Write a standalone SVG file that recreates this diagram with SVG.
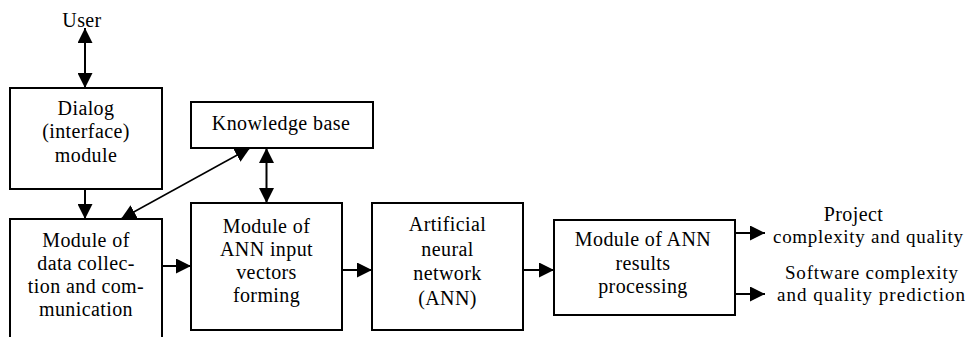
<svg xmlns="http://www.w3.org/2000/svg" width="967" height="337" viewBox="0 0 967 337">
  <style>
    .box { fill: #ffffff; stroke: #000000; stroke-width: 2; }
    .lbl { font-family: 'Liberation Serif', 'DejaVu Serif', serif; font-size: 20px; letter-spacing: 0.4px; fill: #000000; text-anchor: middle; }
    .lbs { font-family: 'Liberation Serif', 'DejaVu Serif', serif; font-size: 19px; fill: #000000; }
    .conn { stroke: #000000; stroke-width: 2; fill: none; }
    .thin { stroke: #000000; stroke-width: 1.5; fill: none; }
  </style>
  <defs>
    <marker id="ah" markerUnits="userSpaceOnUse" markerWidth="15" markerHeight="15" viewBox="0 0 15 15" refX="15" refY="7.5" orient="auto-start-reverse">
      <path d="M0,0 L15,7.5 L0,15 z" fill="#000000"/>
    </marker>
  </defs>
  <rect width="967" height="337" fill="#ffffff"/>

  <g id="user">
    <text class="lbl" x="82" y="27">User</text>
  </g>

  <g id="dialog">
    <rect class="box" x="10" y="88" width="152" height="101"/>
    <text class="lbl" x="86" y="115">Dialog</text>
    <text class="lbl" x="86" y="138">(interface)</text>
    <text class="lbl" x="86" y="162">module</text>
  </g>

  <g id="knowledge">
    <rect class="box" x="191" y="102" width="182" height="46"/>
    <text class="lbl" x="281" y="130">Knowledge base</text>
  </g>

  <g id="datacollection">
    <rect class="box" x="10" y="219" width="152" height="140"/>
    <text class="lbl" x="86" y="247">Module of</text>
    <text class="lbl" x="86" y="270">data collec-</text>
    <text class="lbl" x="86" y="293">tion and com-</text>
    <text class="lbl" x="86" y="316">munication</text>
  </g>

  <g id="inputforming">
    <rect class="box" x="191" y="203" width="151" height="127"/>
    <text class="lbl" x="266.5" y="233">Module of</text>
    <text class="lbl" x="266.5" y="256">ANN input</text>
    <text class="lbl" x="266.5" y="279">vectors</text>
    <text class="lbl" x="266.5" y="302">forming</text>
  </g>

  <g id="ann">
    <rect class="box" x="372" y="203" width="151" height="127"/>
    <text class="lbl" x="447.5" y="231">Artificial</text>
    <text class="lbl" x="447.5" y="256">neural</text>
    <text class="lbl" x="447.5" y="280">network</text>
    <text class="lbl" x="447.5" y="305">(ANN)</text>
  </g>

  <g id="results">
    <rect class="box" x="554" y="220" width="181" height="95"/>
    <text class="lbl" x="643" y="246">Module of ANN</text>
    <text class="lbl" x="643" y="270">results</text>
    <text class="lbl" x="643" y="293">processing</text>
  </g>

  <g id="out1">
    <text class="lbl" x="853.5" y="221">Project</text>
    <text class="lbs" x="773" y="243" textLength="190" lengthAdjust="spacing">complexity and quality</text>
  </g>

  <g id="out2">
    <text class="lbs" x="785" y="279" textLength="173" lengthAdjust="spacing">Software complexity</text>
    <text class="lbs" x="777" y="301" textLength="188" lengthAdjust="spacing">and quality prediction</text>
  </g>

  <g id="connectors">
    <line class="conn" x1="85" y1="28" x2="85" y2="88" marker-start="url(#ah)" marker-end="url(#ah)"/>
    <line class="conn" x1="85" y1="189" x2="85" y2="219" marker-end="url(#ah)"/>
    <line class="thin" x1="250" y1="148" x2="121" y2="219" marker-start="url(#ah)" marker-end="url(#ah)"/>
    <line class="conn" x1="266.5" y1="148" x2="266.5" y2="203" marker-start="url(#ah)" marker-end="url(#ah)"/>
    <line class="conn" x1="162" y1="266" x2="191" y2="266" marker-end="url(#ah)"/>
    <line class="conn" x1="342" y1="270" x2="372" y2="270" marker-end="url(#ah)"/>
    <line class="conn" x1="523" y1="270" x2="554" y2="270" marker-end="url(#ah)"/>
    <line class="conn" x1="735" y1="233" x2="765" y2="233" marker-end="url(#ah)"/>
    <line class="conn" x1="735" y1="294" x2="765" y2="294" marker-end="url(#ah)"/>
  </g>
</svg>
